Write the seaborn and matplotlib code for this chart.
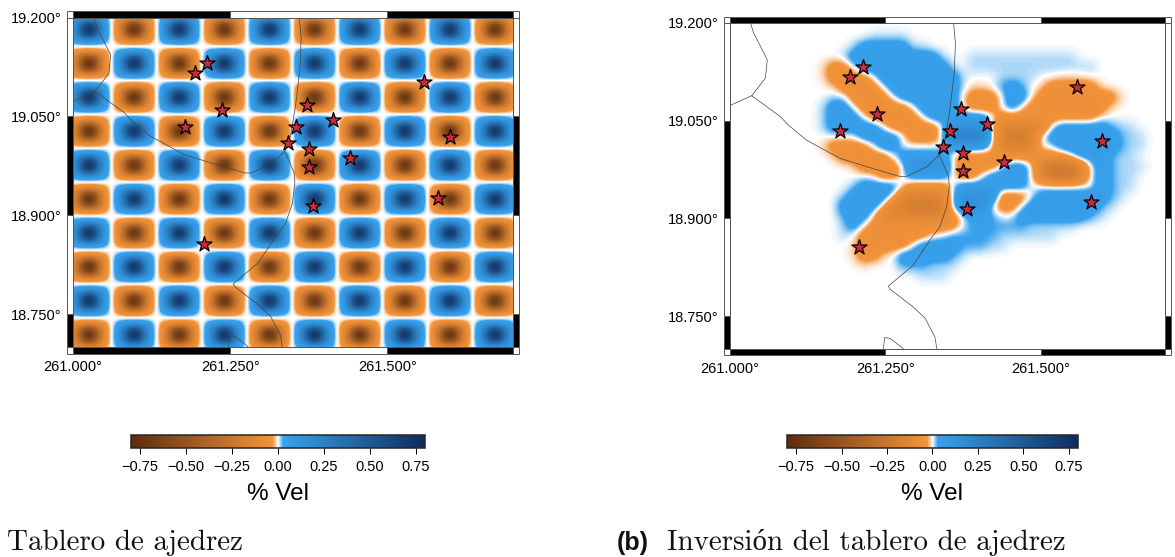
import numpy as np
import pandas as pd
import matplotlib
matplotlib.use('Agg')
import matplotlib.pyplot as plt
from matplotlib.colors import LinearSegmentedColormap
from matplotlib.patches import Rectangle
import seaborn as sns

# Eventos (lon, lat)
star_lon = [261.2136, 261.1938, 261.2367, 261.1777, 261.3720, 261.3548, 261.3425, 261.4133,
            261.3747, 261.3757, 261.4412, 261.5588, 261.5996, 261.5808, 261.3816, 261.2077]
star_lat = [19.1315, 19.1162, 19.0599, 19.0338, 19.0676, 19.0344, 19.0098, 19.0446,
            19.0006, 18.9730, 18.9868, 19.1018, 19.0180, 18.9255, 18.9137, 18.8564]

# Limites / carreteras
road_a_lon = [261.033, 261.038, 261.048, 261.060, 261.057, 261.035, 261.000]
road_a_lat = [19.200, 19.184, 19.166, 19.143, 19.115, 19.088, 19.073]
road_b_lon = [261.035, 261.081, 261.094, 261.123, 261.177, 261.231, 261.274, 261.284, 261.317, 261.337]
road_b_lat = [19.088, 19.056, 19.043, 19.020, 18.992, 18.976, 18.964, 18.964, 18.979, 18.997]
road_c_lon = [261.360, 261.363, 261.361, 261.354, 261.346, 261.337, 261.352, 261.353, 261.349,
              261.338, 261.322, 261.295, 261.255, 261.258, 261.295, 261.314, 261.330, 261.333]
road_c_lat = [19.200, 19.168, 19.122, 19.066, 19.020, 18.997, 18.964, 18.948, 18.918,
              18.887, 18.867, 18.828, 18.796, 18.791, 18.764, 18.747, 18.718, 18.700]
road_d_lon = [261.247, 261.249, 261.258, 261.279]
road_d_lat = [18.700, 18.717, 18.716, 18.700]

# Tablero: signo de cada celda
checker_signs = [
    [1, -1, 1, -1, 1, -1, 1, -1, 1, -1],
    [-1, 1, -1, 1, -1, 1, -1, 1, -1, 1],
    [1, -1, 1, -1, 1, -1, 1, -1, 1, -1],
    [-1, 1, -1, 1, -1, 1, -1, 1, -1, 1],
    [1, -1, 1, -1, 1, -1, 1, -1, 1, -1],
    [-1, 1, -1, 1, -1, 1, -1, 1, -1, 1],
    [1, -1, 1, -1, 1, -1, 1, -1, 1, -1],
    [-1, 1, -1, 1, -1, 1, -1, 1, -1, 1],
    [1, -1, 1, -1, 1, -1, 1, -1, 1, -1],
    [-1, 1, -1, 1, -1, 1, -1, 1, -1, 1],
]
# Perfil de una celda, leido a ojo: base plana + centro oscuro
plate_x = [0.05, 0.55, 0.95, 1, 1, 1, 1, 1, 1, 0.95, 0.55, 0.05]
plate_y = [0.05, 0.55, 0.95, 1, 1, 1, 1, 0.95, 0.55, 0.05]
plate_amp = 0.09
core_x = [0, 0.05, 0.2, 0.45, 0.8, 1, 1, 0.8, 0.45, 0.2, 0.05, 0]
core_y = [0, 0.1, 0.4, 0.8, 1, 1, 0.8, 0.4, 0.1, 0]
core_amp = 0.62

# Inversion: mapa de valores, una letra por celda
inv_levels = {'.': 0, 'f': 0.012, 'g': -0.01, 'c': 0.03, 'b': 0.06, 'B': 0.13, 'D': 0.25,
              'o': -0.06, 'O': -0.13, 'Q': -0.22}
inv_rows = [
    "",
    "..............ffff",
    "............fbbbbbff",
    "...........fbbbbbbbbbf..fffffffffff",
    ".........goo.bbbbbbbbbf.fffffffffffff",
    ".........goooo.bbbbbbbbf...ffff..ggg",
    "..........goooo.bbbbbbbfgg.cbc.gooooog",
    "..........ffoooo.bbbbbb.ooo.bb.oooooooog",
    ".........fbb.ooooo.bbbb.ooo.b.oooooooog",
    ".........fbbb.ooooo.bbbbbb.oooooooooog",
    ".........fbbbbb.ooooo.BBBB.OOOOO.bbbbbcff",
    ".............bbbb.ooo.DDDD.OQQO.bbbbbbbcff",
    ".........goooo.bb.....bbbb.OOOO..bbbbbbcff",
    "..........gooooo.bbbbb.ooooooooooo.bbbcff",
    "............goooo.BBBB.oooo.bb.OQQQO.bcfff",
    "..............goo.bbbb.oo.bbbb.OQQQO.bcff",
    "............fbbbb.oooo.bbbbbbb.......bcff",
    "...........fbbbb.OOOOO.BBBBooo.bbbbbbbcf",
    "...........bbbb.OOQQQO.BBB.oo.bbbbbbbcf",
    "...........cbb.OOOOOOOo.bbc..bbbbbbbcf",
    "...........fb.ooooooooo.ccccccfffff",
    "...........f.ooooooog.cccccffffff",
    "............gooooo.bbbbcccff",
    "............goog.bbbbbcf",
    ".............g...cccfff",
    "...................fff",
    "", "", "", "", "", "", "",
]

x_ticks = [261.0, 261.25, 261.5]
y_ticks = [18.75, 18.9, 19.05, 19.2]
x_labels = ['261.000°', '261.250°', '261.500°']
y_labels = ['18.750°', '18.900°', '19.050°', '19.200°']
cbar_ticks = [-0.75, -0.5, -0.25, 0, 0.25, 0.5, 0.75]
cbar_labels = ['\u22120.75', '\u22120.50', '\u22120.25', '0.00', '0.25', '0.50', '0.75']

W, H = 1175, 557
sns.set_style('white')
plt.rcParams['font.family'] = ['Liberation Sans', 'DejaVu Sans']
plt.rcParams['text.color'] = 'black'
plt.rcParams['axes.labelcolor'] = 'black'
plt.rcParams['xtick.color'] = 'black'
plt.rcParams['ytick.color'] = 'black'

fig = plt.figure(figsize=(W / 100, H / 100), dpi=100)

vel_cmap = LinearSegmentedColormap.from_list('vel', [
    (0.0, '#5c2c0e'), (0.482, '#f4943a'), (0.5, '#ffffff'),
    (0.518, '#38a2ee'), (1.0, '#0e2c5c')], N=1025)


def px_axes(x0, y0, x1, y1):
    return fig.add_axes([x0 / W, 1 - y1 / H, (x1 - x0) / W, (y1 - y0) / H])


def fancy_frame(ax, bw_x, bw_y):
    # Marco tipo GMT, bandas blancas y negras
    edge = '#555555'
    xb = [261.0, 261.25, 261.5, 261.7]
    yb = [18.7, 18.75, 18.9, 19.05, 19.2]
    tx = ax.get_xaxis_transform()
    ty = ax.get_yaxis_transform()
    for i in range(3):
        col = 'black' if i % 2 == 0 else 'white'
        for y0 in (-bw_y, 1):
            ax.add_patch(Rectangle((xb[i], y0), xb[i + 1] - xb[i], bw_y, transform=tx,
                                   fc=col, ec=edge, lw=0.7, clip_on=False, zorder=6))
    for i in range(4):
        col = 'black' if i % 2 == 0 else 'white'
        for x0 in (-bw_x, 1):
            ax.add_patch(Rectangle((x0, yb[i]), bw_x, yb[i + 1] - yb[i], transform=ty,
                                   fc=col, ec=edge, lw=0.7, clip_on=False, zorder=6))
    for x0 in (-bw_x, 1):
        for y0 in (-bw_y, 1):
            ax.add_patch(Rectangle((x0, y0), bw_x, bw_y, transform=ax.transAxes,
                                   fc='white', ec=edge, lw=0.7, clip_on=False, zorder=6))


def draw_map(ax, field, extent):
    im = ax.imshow(field, cmap=vel_cmap, vmin=-0.8, vmax=0.8, extent=extent,
                   interpolation='bicubic', aspect='auto', origin='upper', zorder=1)
    for lon, lat in [(road_a_lon, road_a_lat), (road_b_lon, road_b_lat),
                     (road_c_lon, road_c_lat), (road_d_lon, road_d_lat)]:
        roads = pd.DataFrame({'lon': lon, 'lat': lat})
        sns.lineplot(data=roads, x='lon', y='lat', sort=False, estimator=None,
                     color='#444444', lw=0.5, ax=ax, zorder=3)
    sns.scatterplot(x=star_lon, y=star_lat, marker='*', s=130, color='#d12a3c',
                    edgecolor='black', linewidth=0.9, ax=ax, zorder=5)
    ax.set_xlim(261.0, 261.7)
    ax.set_ylim(18.7, 19.2)
    ax.set_xticks(x_ticks, x_labels)
    ax.set_yticks(y_ticks, y_labels)
    ax.set_xlabel('')
    ax.set_ylabel('')
    ax.tick_params(axis='x', length=0, pad=9.5, labelsize=10.5)
    ax.tick_params(axis='y', length=0, pad=8, labelsize=10.5)
    for s in ax.spines.values():
        s.set_linewidth(0.7)
        s.set_color('#555555')
        s.set_zorder(7)
    return im


def draw_cbar(im, x0, x1):
    cax = px_axes(x0, 435, x1, 447.5)
    cb = fig.colorbar(im, cax=cax, orientation='horizontal')
    cb.set_ticks(cbar_ticks, labels=cbar_labels)
    cb.outline.set_linewidth(1.1)
    cax.tick_params(axis='x', length=4, width=0.7, pad=5, labelsize=10.5)
    cax.set_xlabel('% Vel', fontsize=17.5, labelpad=6.5)


# Tablero de ajedrez
tile = plate_amp * np.outer(plate_y, plate_x) + core_amp * np.outer(core_y, core_x)
checker = np.kron(np.array(checker_signs), tile)
ax1 = px_axes(73, 17.5, 513, 347)
im1 = draw_map(ax1, checker, (260.9896, 261.7076, 18.6927, 19.2067))
fancy_frame(ax1, 6 / 440, 6.5 / 329.5)
draw_cbar(im1, 131, 425)

# Inversion
inv_field = np.array([[inv_levels[c] for c in row.ljust(44, '.')] for row in inv_rows])
ax2 = px_axes(730, 22.7, 1164.7, 348.7)
im2 = draw_map(ax2, inv_field, (261.0, 261.7, 18.7, 19.2))
fancy_frame(ax2, 6 / 434.7, 6 / 326)
draw_cbar(im2, 787, 1078)

# Pies de figura
cap = dict(family=['cmr10', 'Liberation Serif'], fontsize=20.9, va='baseline', color='#111111')
fig.text(7 / W, 1 - 550 / H, 'Tablero de ajedrez', **cap)
fig.text(617 / W, 1 - 550 / H, '(b)', family='Liberation Sans', weight='bold', fontsize=18,
         va='baseline', color='#111111')
fig.text(667 / W, 1 - 550 / H, 'Inversión del tablero de ajedrez', **cap)

fig.savefig('out.png', dpi=100)
